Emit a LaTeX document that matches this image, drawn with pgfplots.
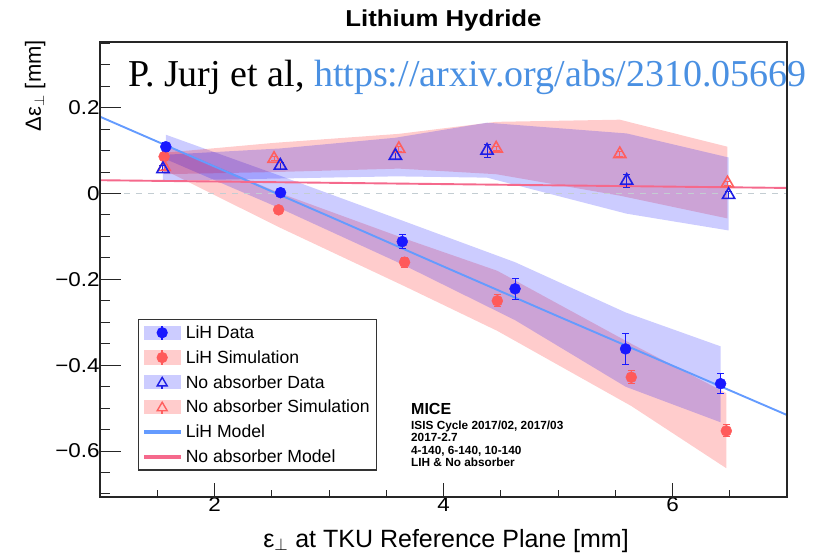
\documentclass[border=0pt]{standalone}
\usepackage{pgfplots}
\pgfplotsset{compat=1.18}
\usepackage{fontspec}
\setmainfont{Liberation Sans}
\newfontfamily\jurjfont{Liberation Serif}
\newfontfamily\widesans[FakeStretch=1.12]{Liberation Sans}

\definecolor{datablue}{RGB}{25,25,255}
\definecolor{simred}{RGB}{255,90,90}
\definecolor{nablue}{RGB}{30,30,230}
\definecolor{nared}{RGB}{255,95,95}
\definecolor{bandblueL}{RGB}{204,204,255}
\definecolor{bandredL}{RGB}{255,204,204}
\definecolor{lihmodel}{RGB}{100,155,255}
\definecolor{namodel}{RGB}{245,105,140}
\definecolor{zeroline}{RGB}{195,205,210}
\definecolor{urlblue}{RGB}{74,144,226}

\newcommand{\tickfont}{\widesans\fontsize{20bp}{20bp}\selectfont}
\newcommand{\legfont}{\fontsize{17.6bp}{17.6bp}\selectfont}
\newcommand{\infofont}{\bfseries\fontsize{11.8bp}{11.8bp}\selectfont}

\begin{document}
\begin{tikzpicture}
\useasboundingbox (-100bp,-58bp) rectangle (716bp,497bp);
\begin{axis}[
  at={(0,0)}, anchor=south west,
  width=687bp, height=455bp, scale only axis,
  xmin=1, xmax=7, ymin=-0.707, ymax=0.353,
  clip=false,
  axis line style={line width=1.3bp, black!85},
  tick style={line width=1bp, black!85},
  tick align=inside,
  xtick pos=left,
  xtick={2,4,6}, xticklabels={2,4,6},
  minor xtick={1.5,2.5,3,3.5,4.5,5,5.5,6.5},
  major tick length=13.6bp, minor tick length=6.8bp,
  ytick=\empty,
  xticklabel style={font=\tickfont, yshift=3bp},
  legend style={at={(rel axis cs:0.0553,0.3912)}, anchor=north west,
    draw=black!80, line width=1.2bp, fill=white, font=\legfont,
    inner xsep=5bp, inner ysep=4bp, row sep=6.6bp, column sep=3bp},
  legend cell align=left,
]
% ---- bands ----
\addplot[draw=none, fill=red, fill opacity=0.2, forget plot] coordinates {
 (1.56,0.115)(2.56,0.002)(3.66,-0.105)(4.47,-0.180)(5.64,-0.350)(6.47,-0.465)
 (6.47,-0.640)(5.64,-0.495)(4.47,-0.320)(3.66,-0.216)(2.56,-0.078)(1.56,0.055)} -- cycle;
\addplot[draw=none, fill=blue, fill opacity=0.2, forget plot] coordinates {
 (1.575,0.137)(2.577,0.041)(3.64,-0.063)(4.625,-0.160)(5.59,-0.277)(6.42,-0.356)
 (6.42,-0.533)(5.59,-0.450)(4.625,-0.295)(3.64,-0.165)(2.577,-0.035)(1.575,0.080)} -- cycle;
\addplot[draw=none, fill=red, fill opacity=0.2, forget plot] coordinates {
 (1.56,0.095)(2.52,0.118)(3.61,0.139)(4.46,0.167)(5.54,0.172)(6.48,0.109)
 (6.48,-0.058)(5.54,-0.005)(4.46,0.045)(3.61,0.058)(2.52,0.050)(1.56,0.045)} -- cycle;
\addplot[draw=none, fill=blue, fill opacity=0.2, forget plot] coordinates {
 (1.55,0.090)(2.575,0.105)(3.58,0.130)(4.38,0.165)(5.60,0.140)(6.49,0.084)
 (6.49,-0.086)(5.60,-0.047)(4.38,0.037)(3.58,0.040)(2.575,0.035)(1.55,0.030)} -- cycle;
% ---- zero line ----
\addplot[zeroline, line width=1.3bp, dash pattern=on 6bp off 6bp, forget plot] coordinates {(1,0)(7,0)};
% ---- models ----
\addplot[lihmodel, line width=1.9bp, forget plot] coordinates {
 (1,0.179)(2,0.063)(3,-0.053)(4,-0.170)(5,-0.286)(6,-0.401)(7,-0.516)};
\addplot[namodel, line width=1.9bp, forget plot] coordinates {(1,0.031)(7,0.013)};
% ---- points ----
\addplot[only marks, mark=*, mark size=5.5bp, color=simred, forget plot,
  error bars/.cd, y dir=both, y explicit,
  error bar style={line width=1bp},
  error mark options={rotate=90, mark size=3.5bp, line width=1bp}] coordinates {
 (1.56,0.086) +- (0,0.010)
 (2.56,-0.038) +- (0,0.008)
 (3.66,-0.160) +- (0,0.012)
 (4.47,-0.250) +- (0,0.014)
 (5.64,-0.428) +- (0,0.015)
 (6.47,-0.553) +- (0,0.014)};
\addplot[only marks, mark=*, mark size=5.5bp, color=datablue, forget plot,
  error bars/.cd, y dir=both, y explicit,
  error bar style={line width=1bp},
  error mark options={rotate=90, mark size=3.5bp, line width=1bp}] coordinates {
 (1.575,0.109) +- (0,0.010)
 (2.577,0.002) +- (0,0.010)
 (3.64,-0.112) +- (0,0.016)
 (4.625,-0.222) +- (0,0.025)
 (5.59,-0.362) +- (0,0.036)
 (6.42,-0.443) +- (0,0.024)};
\addplot[only marks, mark=triangle, mark size=7bp, color=nared, mark options={line width=1.6bp}, forget plot,
  error bars/.cd, y dir=both, y explicit,
  error bar style={line width=1bp},
  error mark options={rotate=90, mark size=3.5bp, line width=1bp}] coordinates {
 (1.56,0.062) +- (0,0.005)
 (2.52,0.081) +- (0,0.005)
 (3.61,0.104) +- (0,0.005)
 (4.46,0.105) +- (0,0.005)
 (5.54,0.092) +- (0,0.005)
 (6.48,0.024) +- (0,0.005)};
\addplot[only marks, mark=triangle, mark size=7bp, color=nablue, mark options={line width=1.6bp}, forget plot,
  error bars/.cd, y dir=both, y explicit,
  error bar style={line width=1bp},
  error mark options={rotate=90, mark size=3.5bp, line width=1bp}] coordinates {
 (1.55,0.057) +- (0,0.008)
 (2.575,0.065) +- (0,0.008)
 (3.58,0.088) +- (0,0.008)
 (4.38,0.100) +- (0,0.015)
 (5.60,0.030) +- (0,0.015)
 (6.49,-0.003) +- (0,0.008)};
% ---- legend ----
\addlegendimage{legend image code/.code={
  \fill[bandblueL] (0bp,-6.5bp) rectangle (36bp,6.5bp);
  \fill[datablue] (17.5bp,-6.5bp) rectangle (18.5bp,6.5bp);
  \fill[datablue] (18bp,0bp) circle (5bp);}}
\addlegendentry{LiH Data}
\addlegendimage{legend image code/.code={
  \fill[bandredL] (0bp,-6.5bp) rectangle (36bp,6.5bp);
  \fill[simred] (17.5bp,-6.5bp) rectangle (18.5bp,6.5bp);
  \fill[simred] (18bp,0bp) circle (5bp);}}
\addlegendentry{LiH Simulation}
\addlegendimage{legend image code/.code={
  \fill[bandblueL] (0bp,-6.5bp) rectangle (36bp,6.5bp);
  \fill[nablue] (17.5bp,-6.5bp) rectangle (18.5bp,-3bp);
  \draw[nablue, line width=1.4bp] (18bp,5bp) -- (13bp,-3.5bp) -- (23bp,-3.5bp) -- cycle;}}
\addlegendentry{No absorber Data}
\addlegendimage{legend image code/.code={
  \fill[bandredL] (0bp,-6.5bp) rectangle (36bp,6.5bp);
  \fill[nared] (17.5bp,-6.5bp) rectangle (18.5bp,-3bp);
  \draw[nared, line width=1.4bp] (18bp,5bp) -- (13bp,-3.5bp) -- (23bp,-3.5bp) -- cycle;}}
\addlegendentry{No absorber Simulation}
\addlegendimage{legend image code/.code={
  \fill[lihmodel] (0bp,-1.1bp) rectangle (36bp,1.1bp);}}
\addlegendentry{LiH Model}
\addlegendimage{legend image code/.code={
  \fill[namodel] (0bp,-1.1bp) rectangle (36bp,1.1bp);}}
\addlegendentry{No absorber Model}
% ---- texts ----
\node[anchor=base west, font=\bfseries\fontsize{16bp}{16bp}\selectfont, inner sep=0pt] at (axis cs:3.716,-0.5137) {MICE};
\node[anchor=base west, font=\infofont, inner sep=0pt] at (axis cs:3.716,-0.549) {ISIS Cycle 2017/02, 2017/03};
\node[anchor=base west, font=\infofont, inner sep=0pt] at (axis cs:3.716,-0.578) {2017-2.7};
\node[anchor=base west, font=\infofont, inner sep=0pt] at (axis cs:3.716,-0.609) {4-140, 6-140, 10-140};
\node[anchor=base west, font=\infofont, inner sep=0pt] at (axis cs:3.716,-0.636) {LIH \& No absorber};
\node[anchor=base west, font=\jurjfont\fontsize{38bp}{38bp}\selectfont, inner sep=0pt] at (axis cs:1.245,0.2505) {P. Jurj et al, \textcolor{urlblue}{https://arxiv.org/abs/2310.05669}};
% title
\node[anchor=base, font=\widesans\bfseries\fontsize{23bp}{23bp}\selectfont, inner sep=0pt] at ([yshift=15.3bp]rel axis cs:0.5,1) {Lithium Hydride};
% x label
\node[anchor=base east, font=\fontsize{25bp}{25bp}\selectfont, inner sep=0pt] at ([yshift=-50bp]axis cs:5.62,-0.707) {ε$_{\perp}$ at TKU Reference Plane [mm]};
% y label
\node[anchor=base east, rotate=90, font=\fontsize{22bp}{22bp}\selectfont, inner sep=0pt] at ([xshift=-59bp,yshift=2bp]rel axis cs:0,1) {Δε$_{\perp}$ [mm]};
\end{axis}
\begin{axis}[
  at={(0,0)}, anchor=south west,
  width=687bp, height=455bp, scale only axis,
  xmin=1, xmax=7, ymin=-0.707, ymax=0.353,
  axis line style={line width=1.3bp, black!85},
  tick style={line width=1bp, black!85},
  tick align=inside,
  ytick pos=left,
  xtick=\empty,
  ytick={-0.6,-0.4,-0.2,0,0.2},
  yticklabels={−0.6,−0.4,−0.2,0,0.2},
  minor ytick={-0.7,-0.65,-0.55,-0.5,-0.45,-0.35,-0.3,-0.25,-0.15,-0.1,-0.05,0.05,0.1,0.15,0.25,0.3,0.35},
  major tick length=20.6bp, minor tick length=10.3bp,
  yticklabel style={font=\tickfont, xshift=3bp},
]
\end{axis}
\end{tikzpicture}
\end{document}
